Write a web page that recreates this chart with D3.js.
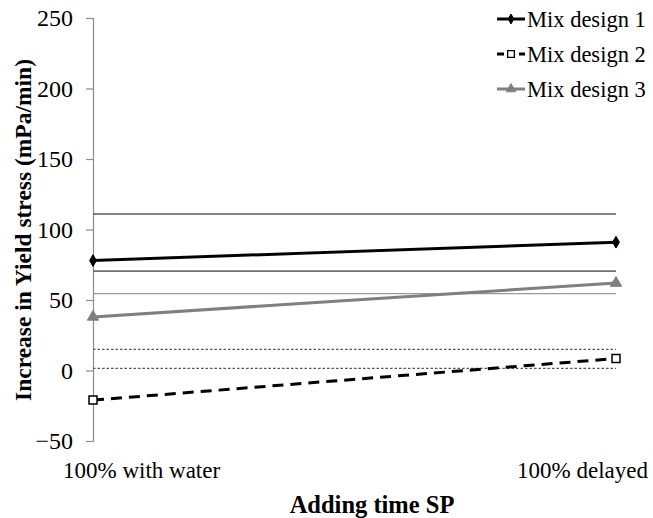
<!DOCTYPE html>
<html>
<head>
<meta charset="utf-8">
<script src="https://cdn.jsdelivr.net/npm/d3@7"></script>
<style>
  body { margin: 0; background: #fff; }
  svg { display: block; }
  svg text { font-family: "Liberation Serif", "Times New Roman", serif; }
</style>
</head>
<body>
<svg id="chart" width="653" height="518"></svg>
<script>
var categories = ["100% with water", "100% delayed"];
var seriesNames = ["Mix design 1", "Mix design 2", "Mix design 3"];
var mix1 = [78, 91];
var mix2 = [-21, 8.5];
var mix3 = [38, 62];
var refSolid = [111, 70.5, 54.5];
var refDotted = [15, 1.5];
var yTicks = [-50, 0, 50, 100, 150, 200, 250];

var svg = d3.select("#chart");
var plotLeft = 93, plotRight = 616, plotTop = 18, plotBottom = 441;

var x = d3.scalePoint().domain(categories).range([plotLeft, plotRight]);
var y = d3.scaleLinear().domain([-50, 250]).range([plotBottom, plotTop]);

// y axis
var yAxis = svg.append("g")
  .attr("transform", "translate(" + plotLeft + ",0)")
  .call(d3.axisLeft(y).tickValues(yTicks).tickSize(7).tickPadding(13).tickFormat(d3.format("d")));
yAxis.attr("font-family", null).attr("font-size", 24);
yAxis.select(".domain").attr("stroke", "#8c8c8c").attr("stroke-width", 1.2);
yAxis.selectAll(".tick line").attr("stroke", "#8c8c8c").attr("stroke-width", 1.2);
yAxis.selectAll(".tick text").attr("fill", "#000");

// reference lines
var solidStyles = [["#5a5a5a", 1.3], ["#707070", 1.6], ["#9a9a9a", 1.2]];
svg.selectAll(".ref-solid").data(refSolid).enter().append("line")
  .attr("class", "ref-solid")
  .attr("x1", x(categories[0])).attr("x2", x(categories[1]))
  .attr("y1", function(d) { return y(d); }).attr("y2", function(d) { return y(d); })
  .attr("stroke", function(d, i) { return solidStyles[i][0]; })
  .attr("stroke-width", function(d, i) { return solidStyles[i][1]; });

svg.selectAll(".ref-dot").data(refDotted).enter().append("line")
  .attr("class", "ref-dot")
  .attr("x1", x(categories[0])).attr("x2", x(categories[1]))
  .attr("y1", function(d) { return y(d); }).attr("y2", function(d) { return y(d); })
  .attr("stroke", "#555").attr("stroke-width", 1.2)
  .attr("stroke-dasharray", "2.5,2");

// series
var series = [
  { name: seriesNames[0], values: mix1, color: "#000", dash: null, symbol: d3.symbolDiamond, size: 40, fill: "#000" },
  { name: seriesNames[1], values: mix2, color: "#000", dash: "11,7", symbol: d3.symbolSquare, size: 64, fill: "#fff" },
  { name: seriesNames[2], values: mix3, color: "#7f7f7f", dash: null, symbol: d3.symbolTriangle, size: 55, fill: "#7f7f7f" }
];

var line = d3.line()
  .x(function(d, i) { return x(categories[i]); })
  .y(function(d) { return y(d); });

series.forEach(function(s) {
  svg.append("path")
    .datum(s.values)
    .attr("d", line)
    .attr("fill", "none")
    .attr("stroke", s.color)
    .attr("stroke-width", 3)
    .attr("stroke-dasharray", s.dash);

  svg.selectAll(null).data(s.values).enter().append("path")
    .attr("d", d3.symbol().type(s.symbol).size(s.size))
    .attr("transform", function(d, i) { return "translate(" + x(categories[i]) + "," + y(d) + ")"; })
    .attr("fill", s.fill)
    .attr("stroke", s.color)
    .attr("stroke-width", s.fill === "#fff" ? 1.5 : 1);
});

// category labels
svg.append("text")
  .attr("x", x(categories[0]) - 30).attr("y", 478)
  .attr("font-size", 23).attr("fill", "#000")
  .text(categories[0]);
svg.append("text")
  .attr("x", x(categories[1]) + 32).attr("y", 478)
  .attr("text-anchor", "end")
  .attr("font-size", 23).attr("fill", "#000")
  .text(categories[1]);

// axis titles
svg.append("text")
  .attr("x", 372).attr("y", 513)
  .attr("text-anchor", "middle")
  .attr("font-size", 24.5).attr("font-weight", "bold")
  .text("Adding time SP");

svg.append("text")
  .attr("transform", "translate(31,230) rotate(-90)")
  .attr("text-anchor", "middle")
  .attr("font-size", 23.5).attr("font-weight", "bold")
  .text("Increase in Yield stress (mPa/min)");

// legend
var legend = svg.append("g");
var rowY = [19, 54, 89];
series.forEach(function(s, i) {
  var g = legend.append("g").attr("transform", "translate(0," + rowY[i] + ")");
  g.append("line")
    .attr("x1", 497).attr("x2", 525)
    .attr("stroke", s.color).attr("stroke-width", 3)
    .attr("stroke-dasharray", s.dash ? "7,4" : null);
  g.append("path")
    .attr("d", d3.symbol().type(s.symbol).size(s.size * 0.7))
    .attr("transform", "translate(511,0)")
    .attr("fill", s.fill).attr("stroke", s.color)
    .attr("stroke-width", s.fill === "#fff" ? 1.3 : 1);
  g.append("text")
    .attr("x", 527).attr("y", 8)
    .attr("font-size", 22.5).attr("fill", "#000")
    .text(s.name);
});
</script>
</body>
</html>
